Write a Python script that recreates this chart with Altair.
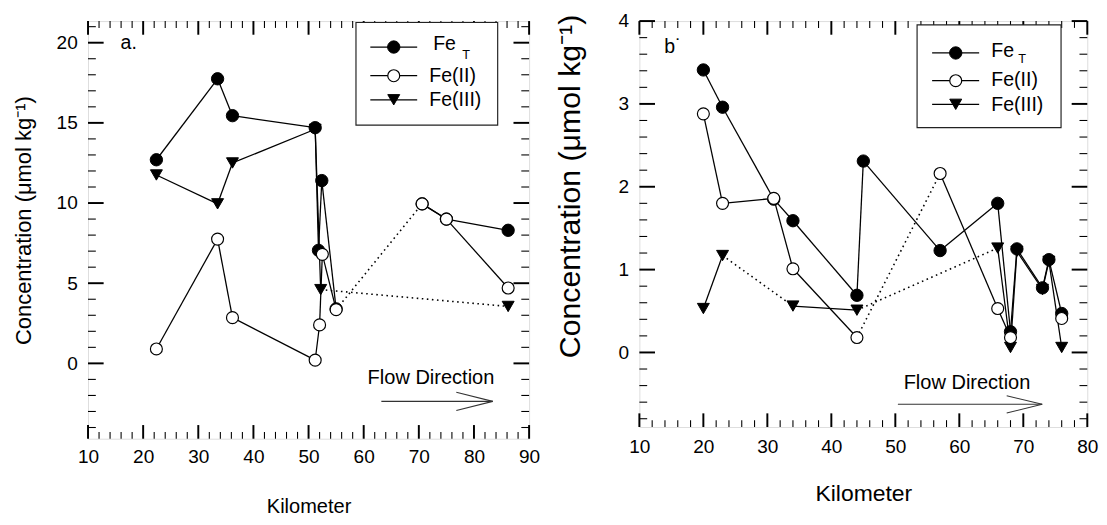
import altair as alt
import pandas as pd

FONT = "Liberation Sans"
SERIES = ["FeT", "Fe(II)", "Fe(III)"]

# ---------------- panel a ----------------
A_FET_KM = [22.4, 33.5, 36.2, 51.2, 51.8, 52.4, 55.0, 70.6, 75.0, 86.2]
A_FET = [12.7, 17.75, 15.45, 14.7, 7.05, 11.4, 3.4, 9.95, 9.0, 8.3]
A_FET_LINK = ["", "s", "s", "s", "s", "s", "s", "", "s", "s"]

A_FE2_KM = [22.4, 33.5, 36.2, 51.2, 52.0, 52.5, 55.0, 70.6, 75.0, 86.2]
A_FE2 = [0.9, 7.75, 2.85, 0.2, 2.4, 6.8, 3.35, 9.95, 9.0, 4.7]
A_FE2_LINK = ["", "s", "s", "s", "s", "s", "s", "d", "s", "s"]

A_FE3_KM = [22.4, 33.5, 36.2, 51.2, 52.2, 86.2]
A_FE3 = [11.75, 9.95, 12.5, 14.6, 4.6, 3.55]
A_FE3_LINK = ["", "s", "s", "s", "s", "d"]

A_X_MAJOR = [10, 20, 30, 40, 50, 60, 70, 80, 90]
A_Y_MAJOR = [0, 5, 10, 15, 20]

# ---------------- panel b ----------------
B_FET_KM = [20, 23, 31, 34, 44, 45, 57, 66, 68, 69, 73, 74, 76]
B_FET = [3.41, 2.96, 1.85, 1.59, 0.69, 2.31, 1.23, 1.8, 0.25, 1.25, 0.78, 1.12, 0.47]
B_FET_LINK = ["", "s", "s", "s", "s", "s", "s", "s", "s", "s", "s", "s", "s"]

B_FE2_KM = [20, 23, 31, 34, 44, 57, 66, 68, 76]
B_FE2 = [2.88, 1.8, 1.86, 1.01, 0.18, 2.16, 0.53, 0.18, 0.41]
B_FE2_LINK = ["", "s", "s", "s", "s", "d", "s", "s", ""]

B_FE3_KM = [20, 23, 34, 44, 66, 68, 69, 73, 74, 76]
B_FE3 = [0.53, 1.17, 0.56, 0.51, 1.26, 0.06, 1.22, 0.76, 1.1, 0.06]
B_FE3_LINK = ["", "s", "d", "s", "d", "s", "s", "s", "s", "s"]

B_X_MAJOR = [10, 20, 30, 40, 50, 60, 70, 80]
B_Y_MAJOR = [0, 1, 2, 3, 4]

LEGEND_LABELS = ["Fe", "Fe(II)", "Fe(III)"]

# annotation placements (data coordinates of each panel)
A_FLOW = {"km": 72.2, "val": -0.95}
A_ARROW = {"km": [63.2, 76.8, 76.8], "val": [-2.37, -1.8, -2.94],
           "km2": [83.4, 83.4, 83.4], "val2": [-2.37, -2.37, -2.37]}
A_LEG = dict(box=(58.6, 84.3, 14.86, 21.26), rows=[19.73, 17.94, 16.44], line=(61.2, 69.7),
             mark=65.45, text_km=[72.6, 71.9, 71.9], text_val=[19.9, 17.93, 16.42], sub=(78.6, 19.2))
B_FLOW = {"km": 61.2, "val": -0.366}
B_ARROW = {"km": [50.4, 67.4, 67.4], "val": [-0.625, -0.523, -0.731],
           "km2": [72.95, 72.95, 72.95], "val2": [-0.625, -0.625, -0.625]}
B_LEG = dict(box=(53.4, 75.9, 2.713, 3.953), rows=[3.615, 3.28, 2.995], line=(55.75, 63.1),
             mark=59.44, text_km=[65.0, 65.0, 65.0], text_val=[3.64, 3.281, 2.989], sub=(69.8, 3.54))


def segments(km, val, link):
    rows = []
    for i in range(1, len(km)):
        if link[i]:
            rows.append({"km": km[i - 1], "val": val[i - 1], "seg": i, "ord": 0, "style": link[i]})
            rows.append({"km": km[i], "val": val[i], "seg": i, "ord": 1, "style": link[i]})
    return pd.DataFrame(rows, columns=["km", "val", "seg", "ord", "style"])


def minor(step, lo, hi, majors):
    out = []
    k = 0
    while True:
        v = round(lo + k * step, 4)
        if v > hi + 1e-9:
            break
        if all(abs(v - m) > 1e-6 for m in majors):
            out.append(v)
        k += 1
    return out


def markers(df, kind, X, Y):
    if kind == "FeT":
        m = alt.Chart(df).mark_point(shape="circle", filled=True, fill="black", stroke="black",
                                     strokeWidth=1, size=160, opacity=1)
    elif kind == "Fe(II)":
        m = alt.Chart(df).mark_point(shape="circle", filled=True, fill="white", stroke="black",
                                     strokeWidth=1.2, size=150, opacity=1)
    else:
        m = alt.Chart(df).mark_point(shape="triangle-down", filled=True, fill="black",
                                     stroke="black", strokeWidth=1, size=150, opacity=1)
    return m.encode(x=X, y=Y)


def panel(cfg):
    W, H = cfg["W"], cfg["H"]
    xs = alt.Scale(domain=cfg["xdom"], nice=False, zero=False)
    ys = alt.Scale(domain=cfg["ydom"], nice=False, zero=False)
    xaxis = alt.Axis(values=cfg["xmaj"], ticks=False, tickSize=0, domain=False, grid=False,
                     title="Kilometer", labelFont=FONT, labelFontSize=19.5, labelColor="black",
                     labelPadding=cfg["xlp"], labelFlush=False, labelOverlap=False, format="d",
                     titleFont=FONT, titleFontSize=cfg["xtfs"], titleFontWeight="normal",
                     titleColor="black", titlePadding=cfg["xtp"])
    yaxis = alt.Axis(values=cfg["ymaj"], ticks=False, tickSize=0, domain=False, grid=False,
                     title="Concentration (μmol kg⁻¹)", labelFont=FONT, labelFontSize=19.5,
                     labelColor="black", labelPadding=11, labelFlush=False, labelOverlap=False,
                     format="d", titleFont=FONT, titleFontSize=cfg["ytfs"], titleFontWeight="normal",
                     titleColor="black", titlePadding=cfg["ytp"], titleY=cfg["ytY"])
    X = alt.X("km:Q", scale=xs, axis=xaxis)
    Y = alt.Y("val:Q", scale=ys, axis=yaxis)
    X2 = alt.X2("km2:Q")
    Y2 = alt.Y2("val2:Q")

    layers = []
    # ticks (inward, on all four sides)
    xmaj = pd.DataFrame({"km": cfg["xmaj"]})
    xmin_ = pd.DataFrame({"km": minor(cfg["xminstep"], cfg["xdom"][0], cfg["xdom"][1], cfg["xmaj"])})
    ymaj = pd.DataFrame({"val": cfg["ymaj"]})
    ymin_ = pd.DataFrame({"val": minor(cfg["yminstep"], cfg["ymin0"], cfg["ydom"][1], cfg["ymaj"])})
    for df, L, sw in [(xmaj, 14, 2.0), (xmin_, 7, 1.1)]:
        layers.append(alt.Chart(df).mark_rule(color="black", strokeWidth=sw).encode(
            x=X, y=alt.value(H), y2=alt.value(H - L)))
        layers.append(alt.Chart(df).mark_rule(color="black", strokeWidth=sw).encode(
            x=X, y=alt.value(0), y2=alt.value(L)))
    for df, L, sw in [(ymaj, 16, 2.0), (ymin_, 8, 1.1)]:
        layers.append(alt.Chart(df).mark_rule(color="black", strokeWidth=sw).encode(
            y=Y, x=alt.value(0), x2=alt.value(L)))
        layers.append(alt.Chart(df).mark_rule(color="black", strokeWidth=sw).encode(
            y=Y, x=alt.value(W), x2=alt.value(W - L)))

    # lines
    for km, val, link in cfg["series"]:
        seg = segments(km, val, link)
        solid = seg[seg["style"] == "s"]
        dotted = seg[seg["style"] == "d"]
        if len(solid):
            layers.append(alt.Chart(solid).mark_line(color="black", strokeWidth=1.3).encode(
                x=X, y=Y, detail="seg:N", order="ord:Q"))
        if len(dotted):
            layers.append(alt.Chart(dotted).mark_line(color="black", strokeWidth=1.6,
                                                      strokeDash=[1.6, 3.6]).encode(
                x=X, y=Y, detail="seg:N", order="ord:Q"))

    # points: Fe(III) below, FeT, Fe(II) on top
    (fkm, fv, _), (k2, v2, _), (k3, v3, _) = cfg["series"]
    layers.append(markers(pd.DataFrame({"km": k3, "val": v3}), "Fe(III)", X, Y))
    layers.append(markers(pd.DataFrame({"km": fkm, "val": fv}), "FeT", X, Y))
    layers.append(markers(pd.DataFrame({"km": k2, "val": v2}), "Fe(II)", X, Y))

    # annotations
    layers.append(alt.Chart(pd.DataFrame([cfg["panel_label"]])).mark_text(
        font=FONT, fontSize=20, align="left", baseline="middle", color="black").encode(
        x=X, y=Y, text="t:N"))
    layers.append(alt.Chart(pd.DataFrame([{**cfg["flow"], "t": "Flow Direction"}])).mark_text(
        font=FONT, fontSize=20.5, align="center", baseline="middle", color="black").encode(
        x=X, y=Y, text="t:N"))
    layers.append(alt.Chart(pd.DataFrame(cfg["arrow"])).mark_rule(
        color="#333333", strokeWidth=1.1).encode(x=X, y=Y, x2=X2, y2=Y2))

    # legend box drawn in the panel's data coordinates
    lg = cfg["leg"]
    b = lg["box"]
    layers.append(alt.Chart(pd.DataFrame({"km": [b[0]], "km2": [b[1]], "val": [b[2]], "val2": [b[3]]}))
                  .mark_rect(fill="white", stroke="#222222", strokeWidth=1.2)
                  .encode(x=X, x2=X2, y=Y, y2=Y2))
    layers.append(alt.Chart(pd.DataFrame({"km": [lg["line"][0]] * 3, "km2": [lg["line"][1]] * 3,
                                          "val": lg["rows"]}))
                  .mark_rule(color="black", strokeWidth=1.3).encode(x=X, x2=X2, y=Y))
    for i, kind in enumerate(SERIES):
        layers.append(markers(pd.DataFrame({"km": [lg["mark"]], "val": [lg["rows"][i]]}), kind, X, Y))
    layers.append(alt.Chart(pd.DataFrame({"km": lg["text_km"], "val": lg["text_val"],
                                          "t": LEGEND_LABELS}))
                  .mark_text(font=FONT, fontSize=20, align="left", baseline="middle", color="black")
                  .encode(x=X, y=Y, text="t:N"))
    layers.append(alt.Chart(pd.DataFrame({"km": [lg["sub"][0]], "val": [lg["sub"][1]], "t": ["T"]}))
                  .mark_text(font=FONT, fontSize=13, align="center", baseline="middle", color="black")
                  .encode(x=X, y=Y, text="t:N"))

    return alt.layer(*layers).properties(width=W, height=H)


cfg_a = dict(
    W=452, H=428, xdom=[10, 90], ydom=[-4.7, 21.35], ymin0=-4, xmaj=A_X_MAJOR, ymaj=A_Y_MAJOR,
    xminstep=2, yminstep=1, xlp=9, xtp=32, xtfs=20.5, ytp=21, ytfs=22.5, ytY=204,
    series=[(A_FET_KM, A_FET, A_FET_LINK), (A_FE2_KM, A_FE2, A_FE2_LINK), (A_FE3_KM, A_FE3, A_FE3_LINK)],
    panel_label={"km": 15.9, "val": 20.0, "t": "a."},
    flow=A_FLOW, arrow=A_ARROW, leg=A_LEG,
)
cfg_b = dict(
    W=459, H=416, xdom=[10, 80], ydom=[-0.9, 4], ymin0=-0.8, xmaj=B_X_MAJOR, ymaj=B_Y_MAJOR,
    xminstep=2, yminstep=0.2, xlp=11.5, xtp=26, xtfs=23.5, ytp=32, ytfs=31, ytY=169,
    series=[(B_FET_KM, B_FET, B_FET_LINK), (B_FE2_KM, B_FE2, B_FE2_LINK), (B_FE3_KM, B_FE3, B_FE3_LINK)],
    panel_label={"km": 13.9, "val": 3.685, "t": "b˙"},
    flow=B_FLOW, arrow=B_ARROW, leg=B_LEG,
)

chart = alt.hconcat(panel(cfg_a), panel(cfg_b), spacing=14).configure_view(
    stroke="black", strokeWidth=1.3).configure(
    font=FONT, padding={"top": -4, "left": 4, "right": 0, "bottom": 0})

chart.save("out.html", embed_options={"renderer": "svg", "actions": False})
